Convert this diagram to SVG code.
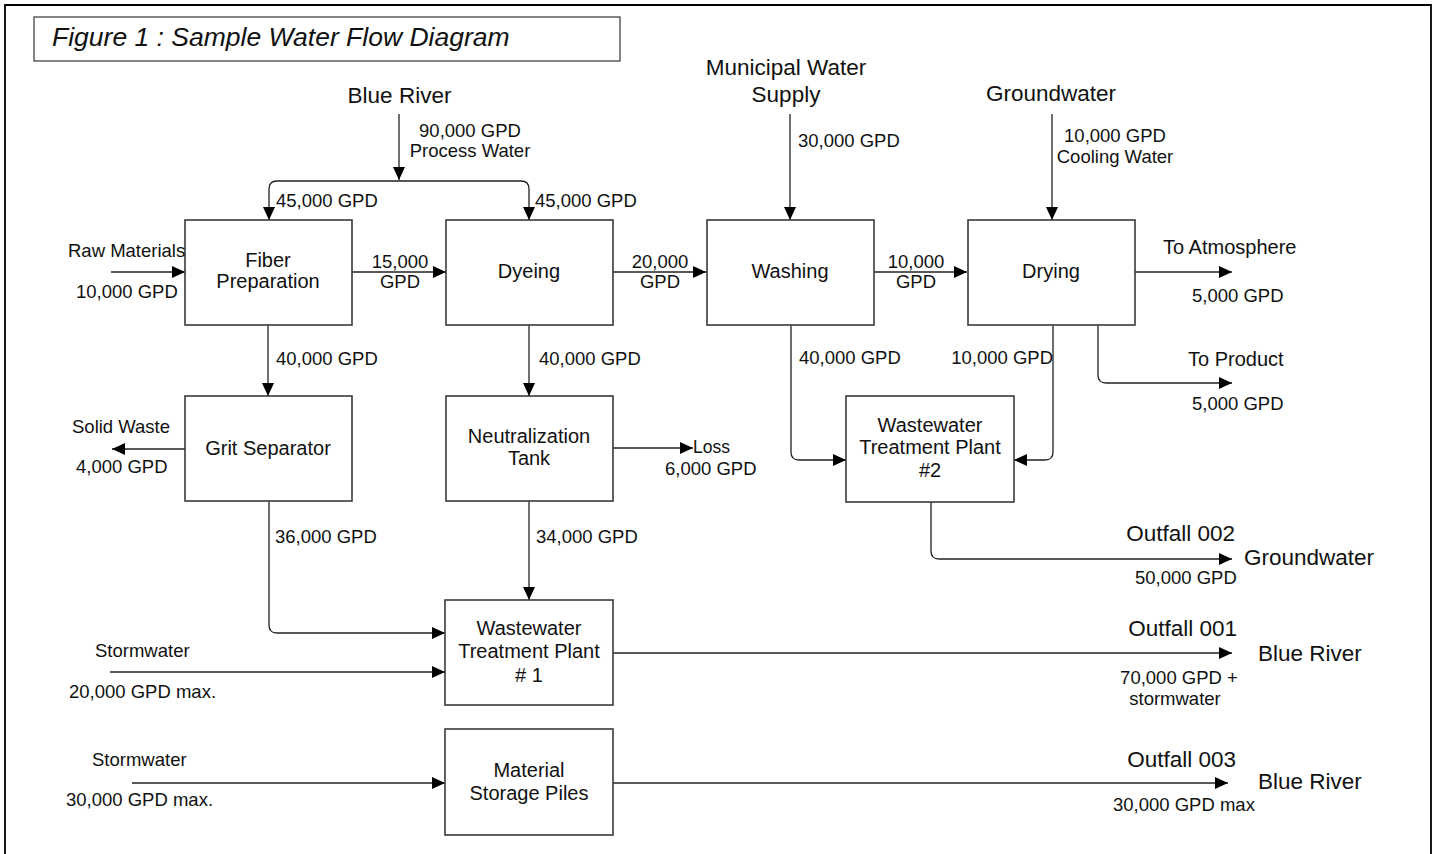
<svg xmlns="http://www.w3.org/2000/svg" width="1435" height="854" viewBox="0 0 1435 854">
<style>
text{font-family:"Liberation Sans",Arial,sans-serif;fill:#111}
.node rect{fill:#fff;stroke:#3a3a3a;stroke-width:1.6}
.n{font-size:20px;text-anchor:middle}
.l{font-size:18.5px}
.big{font-size:22.5px}
.m{text-anchor:middle}
.e{text-anchor:end}
#connectors path{fill:none;stroke:#222;stroke-width:1.3}
</style>
<defs>
<marker id="ah" markerUnits="userSpaceOnUse" markerWidth="14" markerHeight="13" refX="13" refY="6" orient="auto">
<path d="M0,0 L13,6 L0,12 z" fill="#000"/>
</marker>
</defs>
<rect x="0" y="0" width="1435" height="854" fill="#fff"/>
<path d="M5,900 V5 H1431 V900" fill="none" stroke="#000" stroke-width="1.8"/>
<g id="title">
<rect x="34" y="17" width="586" height="44" fill="#fff" stroke="#444" stroke-width="1.3"/>
<text x="52" y="46" font-size="26.5" font-style="italic">Figure 1 : Sample Water Flow Diagram</text>
</g>
<g id="connectors" marker-end="url(#ah)">
<path d="M399,114 V180"/>
<path d="M399,181 H277 Q269,181 269,189 V220"/>
<path d="M399,181 H521 Q529,181 529,189 V220"/>
<path d="M111,272 H185"/>
<path d="M352,272 H446"/>
<path d="M612,272 H706"/>
<path d="M873,272 H967"/>
<path d="M790,114 V220"/>
<path d="M1052,114 V220"/>
<path d="M1135,272 H1232"/>
<path d="M1098,325 V375 Q1098,383 1106,383 H1232"/>
<path d="M1053,325 V452 Q1053,460 1045,460 H1014"/>
<path d="M791,325 V452 Q791,460 799,460 H846"/>
<path d="M268,325 V396"/>
<path d="M529,325 V396"/>
<path d="M185,449 H112"/>
<path d="M612,448 H693"/>
<path d="M269,501 V625 Q269,633 277,633 H445"/>
<path d="M529,501 V600"/>
<path d="M110,672 H445"/>
<path d="M931,502 V551 Q931,559 939,559 H1232"/>
<path d="M612,653 H1232"/>
<path d="M132,783 H445"/>
<path d="M612,783 H1228"/>
</g>
<g id="node-fiber" class="node"><rect x="185" y="220" width="167" height="105"/><text class="n" x="268" y="267">Fiber</text><text class="n" x="268" y="288">Preparation</text></g>
<g id="node-dyeing" class="node"><rect x="446" y="220" width="167" height="105"/><text class="n" x="529" y="278">Dyeing</text></g>
<g id="node-washing" class="node"><rect x="707" y="220" width="167" height="105"/><text class="n" x="790" y="278">Washing</text></g>
<g id="node-drying" class="node"><rect x="968" y="220" width="167" height="105"/><text class="n" x="1051" y="278">Drying</text></g>
<g id="node-grit" class="node"><rect x="185" y="396" width="167" height="105"/><text class="n" x="268" y="455">Grit Separator</text></g>
<g id="node-neutral" class="node"><rect x="446" y="396" width="167" height="105"/><text class="n" x="529" y="443">Neutralization</text><text class="n" x="529" y="465">Tank</text></g>
<g id="node-wtp2" class="node"><rect x="846" y="396" width="168" height="106"/><text class="n" x="930" y="432">Wastewater</text><text class="n" x="930" y="454">Treatment Plant</text><text class="n" x="930" y="477">#2</text></g>
<g id="node-wtp1" class="node"><rect x="445" y="600" width="168" height="105"/><text class="n" x="529" y="635">Wastewater</text><text class="n" x="529" y="658">Treatment Plant</text><text class="n" x="529" y="682"># 1</text></g>
<g id="node-msp" class="node"><rect x="445" y="729" width="168" height="106"/><text class="n" x="529" y="777">Material</text><text class="n" x="529" y="800">Storage Piles</text></g>
<g id="labels">
<text class="big m" x="399.5" y="103">Blue River</text>
<text class="big m" x="786" y="75">Municipal Water</text>
<text class="big m" x="786" y="102">Supply</text>
<text class="big m" x="1051" y="101">Groundwater</text>
<text class="l m" x="470" y="137">90,000 GPD</text>
<text class="l m" x="470" y="157">Process Water</text>
<text class="l" x="276" y="207">45,000 GPD</text>
<text class="l" x="535" y="207">45,000 GPD</text>
<text class="l" x="798" y="147">30,000 GPD</text>
<text class="l m" x="1115" y="142">10,000 GPD</text>
<text class="l m" x="1115" y="163">Cooling Water</text>
<text class="l" x="68" y="257">Raw Materials</text>
<text class="l" x="76" y="298">10,000 GPD</text>
<text class="l m" x="400" y="268">15,000</text>
<text class="l m" x="400" y="288">GPD</text>
<text class="l m" x="660" y="268">20,000</text>
<text class="l m" x="660" y="288">GPD</text>
<text class="l m" x="916" y="268">10,000</text>
<text class="l m" x="916" y="288">GPD</text>
<text x="1163" y="254" font-size="20">To Atmosphere</text>
<text class="l" x="1192" y="302">5,000 GPD</text>
<text x="1188" y="366" font-size="20">To Product</text>
<text class="l" x="1192" y="410">5,000 GPD</text>
<text class="l" x="276" y="365">40,000 GPD</text>
<text class="l" x="539" y="365">40,000 GPD</text>
<text class="l" x="799" y="364">40,000 GPD</text>
<text class="l e" x="1053" y="364">10,000 GPD</text>
<text class="l" x="72" y="433">Solid Waste</text>
<text class="l" x="76" y="473">4,000 GPD</text>
<text x="693" y="453" font-size="17.5">Loss</text>
<text class="l" x="665" y="475">6,000 GPD</text>
<text class="l" x="275" y="543">36,000 GPD</text>
<text class="l" x="536" y="543">34,000 GPD</text>
<text class="big e" x="1235" y="541">Outfall 002</text>
<text class="big" x="1244" y="565">Groundwater</text>
<text class="l" x="1135" y="584">50,000 GPD</text>
<text class="l" x="95" y="657">Stormwater</text>
<text class="l" x="69" y="698">20,000 GPD max.</text>
<text class="big e" x="1237" y="636">Outfall 001</text>
<text class="big" x="1258" y="661">Blue River</text>
<text class="l m" x="1179" y="684">70,000 GPD +</text>
<text class="l m" x="1175" y="705">stormwater</text>
<text class="l" x="92" y="766">Stormwater</text>
<text class="l" x="66" y="806">30,000 GPD max.</text>
<text class="big e" x="1236" y="767">Outfall 003</text>
<text class="big" x="1258" y="789">Blue River</text>
<text class="l" x="1113" y="811">30,000 GPD max</text>
</g>
</svg>
